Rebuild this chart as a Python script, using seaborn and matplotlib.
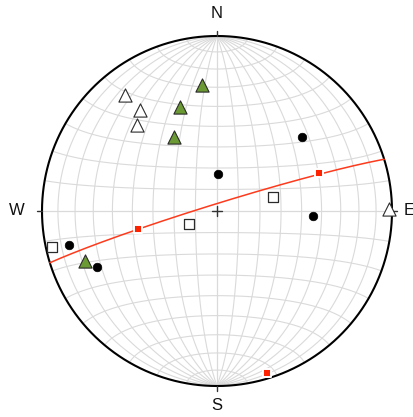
import numpy as np
import pandas as pd
import matplotlib
matplotlib.use("Agg")
import matplotlib.pyplot as plt
import seaborn as sns

# Orientation data (trend / plunge in degrees, lower hemisphere)
green_trend = [353.2, 340.5, 329.7, 249.5]
green_plunge = [28.3, 36.8, 49.7, 20.3]

open_tri_trend = [321.6, 322.7, 317.2, 89.2]
open_tri_plunge = [16.5, 28.2, 33.4, 1.9]

dot_trend = [48.9, 2.0, 93.2, 257.0, 245.0]
dot_plunge = [35.9, 73.0, 44.1, 14.4, 25.6]

open_sq_trend = [76.2, 244.9, 257.8]
open_sq_plunge = [63.2, 75.8, 4.2]

red_trend = [69.6, 256.9, 162.8]
red_plunge = [37.7, 51.9, 3.3]

# Plane (right-hand rule strike / dip)
plane_strike = 252.8
plane_dip = 86.7

compass = ["N", "E", "S", "W"]


def to_xyz(trend, plunge):
    t = np.radians(np.asarray(trend, float))
    p = np.radians(np.asarray(plunge, float))
    return np.cos(p) * np.sin(t), np.cos(p) * np.cos(t), np.sin(p)


def equal_area(x, y, z):
    # Lambert equal-area projection, unit primitive circle
    k = 1.0 / np.sqrt(1.0 + z)
    return x * k, y * k


def project(trend, plunge):
    return equal_area(*to_xyz(trend, plunge))


sns.set_style("white")
fig = plt.figure(figsize=(4.14, 4.17), dpi=100)
ax = fig.add_axes([0, 0, 1, 1])
R_PX = 175.0
ax.set_xlim(-217 / R_PX, 197 / R_PX)
ax.set_ylim(-206 / R_PX, 211 / R_PX)
ax.axis("off")

# Schmidt net: 10 degree grid
grid_kw = dict(color="#dadada", lw=0.8, zorder=1)
phi = np.radians(np.linspace(-90, 90, 361))
for lam_deg in range(-80, 90, 10):
    lam = np.radians(lam_deg)
    x = np.cos(phi) * np.sin(lam)
    y = np.sin(phi)
    z = np.cos(phi) * np.cos(lam)
    X, Y = equal_area(x, y, z)
    ax.plot(X, Y, **grid_kw)
lam = np.radians(np.linspace(-90, 90, 361))
for phi_deg in range(-80, 90, 10):
    ph = np.radians(phi_deg)
    x = np.cos(ph) * np.sin(lam)
    y = np.full_like(lam, np.sin(ph))
    z = np.cos(ph) * np.cos(lam)
    X, Y = equal_area(x, y, z)
    ax.plot(X, Y, **grid_kw)
ax.plot([-1, 1], [0, 0], **grid_kw)
ax.plot([0, 0], [-1, 1], **grid_kw)

# Primitive circle
a = np.linspace(0, 2 * np.pi, 721)
ax.plot(np.cos(a), np.sin(a), color="black", lw=1.5, zorder=3)

# Centre cross and compass ticks
c = 5 / R_PX
ax.plot([-c, c], [0, 0], color="#333333", lw=1, zorder=3)
ax.plot([0, 0], [-c, c], color="#333333", lw=1, zorder=3)
for ang in (0, 90, 180, 270):
    s, co = np.sin(np.radians(ang)), np.cos(np.radians(ang))
    ax.plot([s, 1.03 * s], [co, 1.03 * co], color="#333333", lw=1, zorder=3)

label_pos = {"N": (0, 1.13), "E": (1.097, 0), "S": (0, -1.114), "W": (-1.145, 0)}
for lab in compass:
    lx, ly = label_pos[lab]
    ax.text(lx, ly, lab, ha="center", va="center", fontsize=12,
            family=["Liberation Sans", "DejaVu Sans"], color="#111111")

# Great circle of the plane
dd = plane_strike + 90.0
sv = np.array(to_xyz(plane_strike, 0.0))
dv = np.array(to_xyz(dd, plane_dip))
t = np.radians(np.linspace(0, 180, 361))
vec = np.outer(sv, np.cos(t)) + np.outer(dv, np.sin(t))
gx, gy = equal_area(vec[0], vec[1], vec[2])
gc = pd.DataFrame({"x": gx, "y": gy})
sns.lineplot(data=gc, x="x", y="y", sort=False, estimator=None,
             color="#ff3a1c", lw=1.1, ax=ax, zorder=4)


def frame(trend, plunge):
    X, Y = project(trend, plunge)
    return pd.DataFrame({"x": X, "y": Y})


sns.scatterplot(data=frame(green_trend, green_plunge), x="x", y="y", marker="^",
                s=90, color="#6b9a34", edgecolor="#2b2b2b", linewidth=0.8,
                ax=ax, zorder=6)
sns.scatterplot(data=frame(open_tri_trend, open_tri_plunge), x="x", y="y", marker="^",
                s=90, color="white", edgecolor="#2b2b2b", linewidth=0.8,
                ax=ax, zorder=6)
sns.scatterplot(data=frame(dot_trend, dot_plunge), x="x", y="y", marker="o",
                s=38, color="black", edgecolor="black", linewidth=0.5,
                ax=ax, zorder=6)
sns.scatterplot(data=frame(open_sq_trend, open_sq_plunge), x="x", y="y", marker="s",
                s=42, color="white", edgecolor="#2b2b2b", linewidth=0.9,
                ax=ax, zorder=6)
sns.scatterplot(data=frame(red_trend, red_plunge), x="x", y="y", marker="s",
                s=28, color="#ff2200", edgecolor="white", linewidth=1.4,
                ax=ax, zorder=7)

ax.set_xlim(-217 / R_PX, 197 / R_PX)
ax.set_ylim(-206 / R_PX, 211 / R_PX)
fig.savefig("out.png", dpi=100)
